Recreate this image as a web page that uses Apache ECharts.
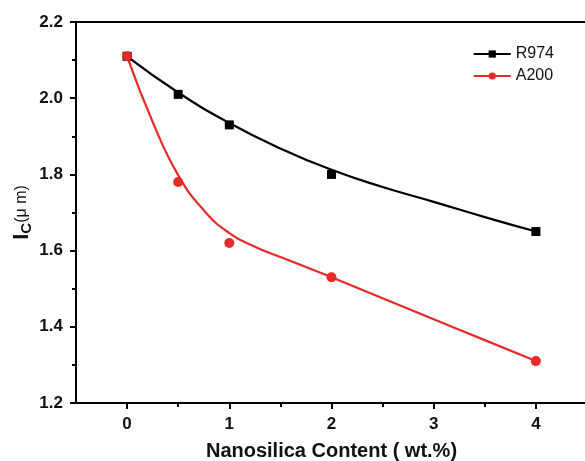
<!DOCTYPE html>
<html>
<head>
<meta charset="utf-8">
<script src="https://cdn.jsdelivr.net/npm/echarts@6/dist/echarts.min.js"></script>
<style>
  html, body { margin: 0; padding: 0; background: #fff; }
  #chart { width: 585px; height: 461px; }
</style>
</head>
<body>
<div id="chart"></div>
<script>
// measured points
var contentX = [0, 0.5, 1, 2, 4];
var r974 = [2.11, 2.01, 1.93, 1.80, 1.65];
var a200 = [2.11, 1.78, 1.62, 1.53, 1.31];

// fitted curves
var r974FitX = [0, 0.5, 1, 1.5, 2, 2.5, 3, 3.5, 4];
var r974FitY = [2.11, 2.015, 1.935, 1.868, 1.812, 1.767, 1.728, 1.688, 1.65];
var a200FitX = [0, 0.25, 0.5, 0.75, 1, 1.25, 1.5, 1.75, 2, 2.5, 3, 3.5, 4];
var a200FitY = [2.11, 1.938, 1.798, 1.706, 1.646, 1.61, 1.583, 1.557, 1.53, 1.475, 1.42, 1.365, 1.31];

// tick labels
var xTicks = [0, 1, 2, 3, 4];
var xMinorTicks = [0.5, 1.5, 2.5, 3.5];

var BLACK = '#000000';
var RED = '#e62a2a';
var FONT = 'Liberation Sans, Arial, sans-serif';

function pairs(xs, ys) {
    var out = [];
    for (var i = 0; i < xs.length; i++) {
        out.push([xs[i], ys[i]]);
    }
    return out;
}

var option = {
    animation: false,
    backgroundColor: '#fff',
    grid: { left: 76, top: 22, right: -2, bottom: 58, outerBoundsMode: 'none', containLabel: false },
    legend: {
        orient: 'vertical',
        right: 26,
        top: 41,
        itemWidth: 37,
        itemHeight: 9,
        itemGap: 6,
        textStyle: { fontFamily: FONT, fontSize: 16, color: '#111' },
        data: ['R974', 'A200']
    },
    xAxis: [{
        type: 'value',
        min: -0.5,
        max: 4.5,
        position: 'bottom',
        name: 'Nanosilica Content ( wt.%)',
        nameLocation: 'middle',
        nameGap: 38,
        nameTextStyle: { fontFamily: FONT, fontSize: 20, fontWeight: 'bold', color: '#111' },
        axisLine: { onZero: false, lineStyle: { color: BLACK, width: 2 } },
        axisTick: { show: true, inside: false, length: 6, lineStyle: { width: 2, color: BLACK }, customValues: xTicks },
        axisLabel: { customValues: xTicks, fontFamily: FONT, fontSize: 17, fontWeight: 'bold', color: '#111', margin: 13 },
        splitLine: { show: false }
    }, {
        // minor ticks
        type: 'value',
        min: -0.5,
        max: 4.5,
        position: 'bottom',
        axisLine: { show: false, onZero: false },
        axisTick: { show: true, inside: false, length: 4, lineStyle: { width: 2, color: BLACK }, customValues: xMinorTicks },
        axisLabel: { show: false },
        splitLine: { show: false }
    }, {
        // top frame
        type: 'value',
        min: -0.5,
        max: 4.5,
        position: 'top',
        axisLine: { onZero: false, lineStyle: { color: BLACK, width: 2 } },
        axisTick: { show: false },
        axisLabel: { show: false },
        splitLine: { show: false }
    }],
    yAxis: [{
        type: 'value',
        min: 1.2,
        max: 2.2,
        interval: 0.2,
        position: 'left',
        name: '{i|I}{c|C}{u|(μ m)}',
        nameLocation: 'middle',
        nameRotate: 90,
        nameGap: 42,
        nameMoveOverlap: false,
        nameTextStyle: {
            rich: {
                i: { fontFamily: FONT, fontSize: 22, fontWeight: 'bold', color: '#111' },
                c: { fontFamily: FONT, fontSize: 15, fontWeight: 'bold', color: '#111', padding: [9, 0, 0, 0] },
                u: { fontFamily: FONT, fontSize: 16, color: '#111' }
            }
        },
        axisLine: { show: true, onZero: false, lineStyle: { color: BLACK, width: 2 } },
        axisTick: { show: true, inside: false, length: 6, lineStyle: { width: 2, color: BLACK } },
        minorTick: { show: true, splitNumber: 2, length: 4, lineStyle: { width: 2, color: BLACK } },
        axisLabel: {
            fontFamily: FONT, fontSize: 17, fontWeight: 'bold', color: '#111', margin: 13,
            formatter: function (v) { return v.toFixed(1); }
        },
        splitLine: { show: false },
        minorSplitLine: { show: false }
    }, {
        // right frame
        type: 'value',
        min: 1.2,
        max: 2.2,
        position: 'right',
        axisLine: { show: true, onZero: false, lineStyle: { color: BLACK, width: 2 } },
        axisTick: { show: false },
        axisLabel: { show: false },
        splitLine: { show: false }
    }],
    series: [{
        name: 'R974',
        type: 'line',
        smooth: 0.5,
        symbol: 'rect',
        symbolSize: 9,
        showSymbol: false,
        itemStyle: { color: BLACK },
        lineStyle: { color: BLACK, width: 2.2 },
        data: pairs(r974FitX, r974FitY)
    }, {
        name: 'A200',
        type: 'line',
        smooth: 0.5,
        symbol: 'circle',
        symbolSize: 10,
        showSymbol: false,
        itemStyle: { color: RED },
        lineStyle: { color: RED, width: 2.2 },
        data: pairs(a200FitX, a200FitY)
    }, {
        name: 'R974',
        type: 'scatter',
        symbol: 'rect',
        symbolSize: 9,
        itemStyle: { color: BLACK, opacity: 1 },
        z: 3,
        data: pairs(contentX, r974)
    }, {
        name: 'A200',
        type: 'scatter',
        symbol: 'circle',
        symbolSize: 10,
        itemStyle: { color: RED, opacity: 1 },
        z: 4,
        data: pairs(contentX, a200)
    }]
};

var myChart = echarts.init(document.getElementById('chart'));
myChart.setOption(option);
</script>
</body>
</html>
